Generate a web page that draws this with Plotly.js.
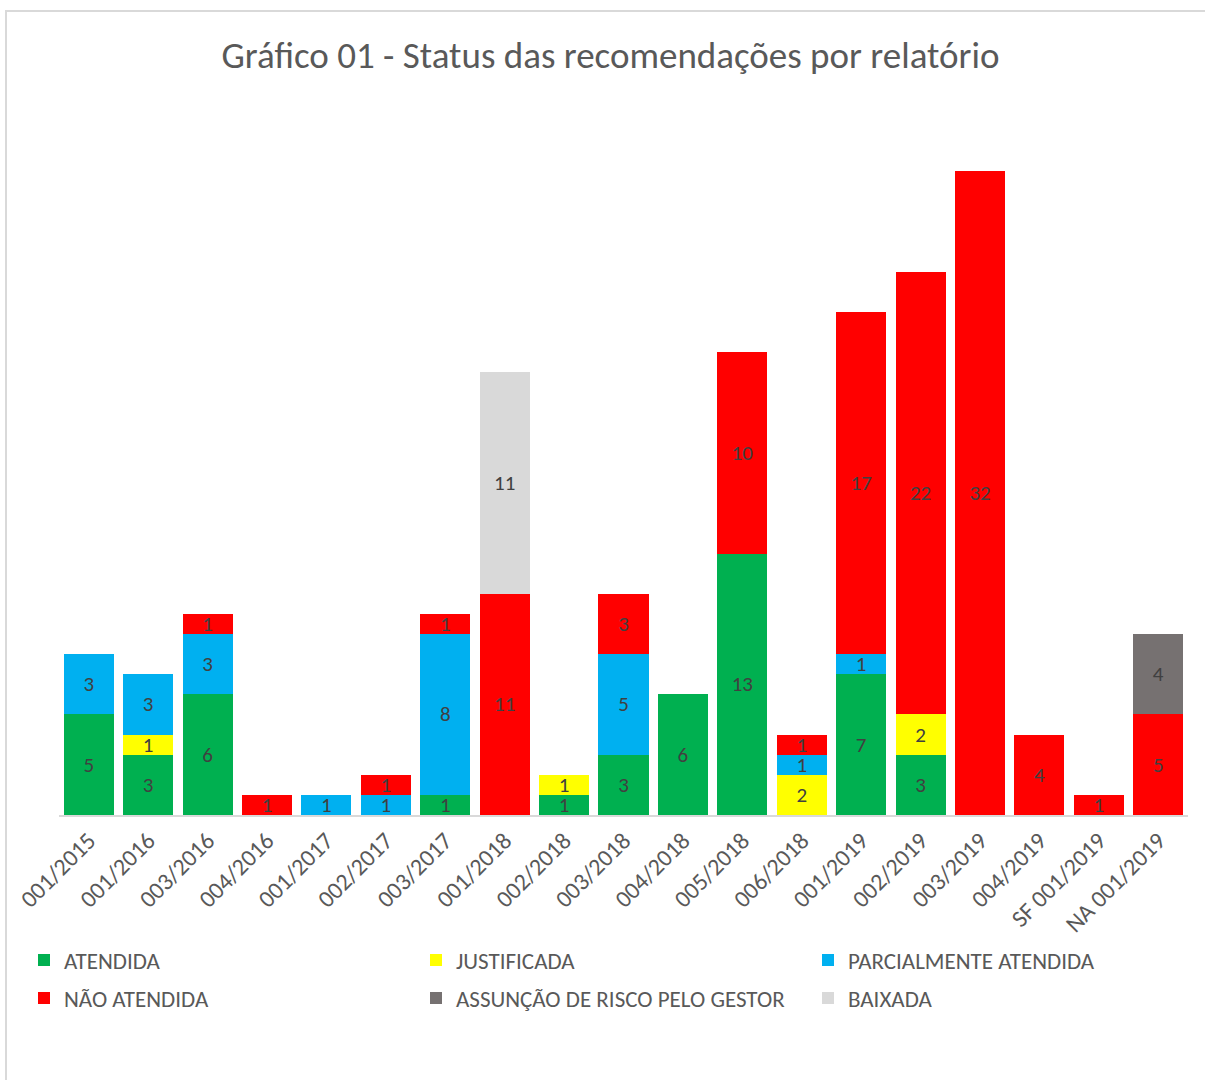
<!DOCTYPE html>
<html>
<head>
<meta charset="utf-8">
<script src="https://cdn.plot.ly/plotly-3.0.1.min.js"></script>
<style>
  html, body { margin: 0; padding: 0; background: #fff; }
  #chart { position: absolute; left: 0; top: 0; width: 1205px; height: 1080px; }
  #frame { position: absolute; left: 5px; top: 10px; width: 1220px; height: 1100px;
           border: 2px solid #d9d9d9; pointer-events: none; }
</style>
</head>
<body>
<div id="chart"></div>
<div id="frame"></div>
<script>
const categories = ['001/2015','001/2016','003/2016','004/2016','001/2017','002/2017','003/2017',
  '001/2018','002/2018','003/2018','004/2018','005/2018','006/2018','001/2019','002/2019',
  '003/2019','004/2019','SF 001/2019','NA 001/2019'];

const atendida     = [5, 3, 6, null, null, null, 1, null, 1, 3, 6, 13, null, 7, 3, null, null, null, null];
const justificada  = [null, 1, null, null, null, null, null, null, 1, null, null, null, 2, null, 2, null, null, null, null];
const parcialmente = [3, 3, 3, null, 1, 1, 8, null, null, 5, null, null, 1, 1, null, null, null, null, null];
const naoAtendida  = [null, null, 1, 1, null, 1, 1, 11, null, 3, null, 10, 1, 17, 22, 32, 4, 1, 5];
const assuncao     = [null, null, null, null, null, null, null, null, null, null, null, null, null, null, null, null, null, null, 4];
const baixada      = [null, null, null, null, null, null, null, 11, null, null, null, null, null, null, null, null, null, null, null];

const seriesNames = ['ATENDIDA','JUSTIFICADA','PARCIALMENTE ATENDIDA','NÃO ATENDIDA','ASSUNÇÃO DE RISCO PELO GESTOR','BAIXADA'];
const seriesValues = [atendida, justificada, parcialmente, naoAtendida, assuncao, baixada];
const seriesColors = ['#00B050','#FFFF00','#00B0F0','#FF0000','#767171','#D9D9D9'];
const seriesLegend = ['legend','legend','legend','legend2','legend2','legend2'];

const FONT = 'Carlito, Lato, "Open Sans", sans-serif';

const traces = seriesNames.map((name, i) => ({
  type: 'bar',
  name: name,
  x: categories,
  y: seriesValues[i],
  marker: { color: seriesColors[i], line: { width: 0 } },
  texttemplate: '%{y}',
  textposition: 'inside',
  insidetextanchor: 'middle',
  textangle: 0,
  constraintext: 'none',
  textfont: { family: FONT, size: 21, color: '#404040' },
  legend: seriesLegend[i],
  hoverinfo: 'x+y+name'
}));

const legendCommon = {
  orientation: 'h',
  traceorder: 'normal',
  xanchor: 'left',
  yanchor: 'middle',
  x: -0.031,
  entrywidth: 347,
  entrywidthmode: 'pixels',
  font: { family: FONT, size: 23, color: '#595959' },
  bgcolor: 'rgba(0,0,0,0)',
  itemclick: false,
  itemdoubleclick: false
};

const layout = {
  width: 1205,
  height: 1080,
  paper_bgcolor: '#ffffff',
  plot_bgcolor: '#ffffff',
  barmode: 'stack',
  bargap: 0.158,
  margin: { l: 59, r: 17, t: 111, b: 265, autoexpand: false },
  title: {
    text: 'Gráfico 01 - Status das recomendações por relatório',
    font: { family: FONT, size: 37, color: '#595959' },
    xref: 'container', x: 0.5066, xanchor: 'center',
    yref: 'container', y: 0.949, yanchor: 'middle'
  },
  xaxis: {
    type: 'category',
    tickangle: -45,
    tickfont: { family: FONT, size: 24, color: '#595959' },
    showline: true,
    linecolor: '#d9d9d9',
    linewidth: 2,
    ticks: '',
    showgrid: false,
    zeroline: false
  },
  yaxis: {
    range: [0, 35],
    visible: false,
    showgrid: false,
    zeroline: false
  },
  legend: Object.assign({}, legendCommon, { y: -0.206 }),
  legend2: Object.assign({}, legendCommon, { y: -0.260 }),
  showlegend: true
};

Plotly.newPlot('chart', traces, layout, { displayModeBar: false, staticPlot: true });
</script>
</body>
</html>
